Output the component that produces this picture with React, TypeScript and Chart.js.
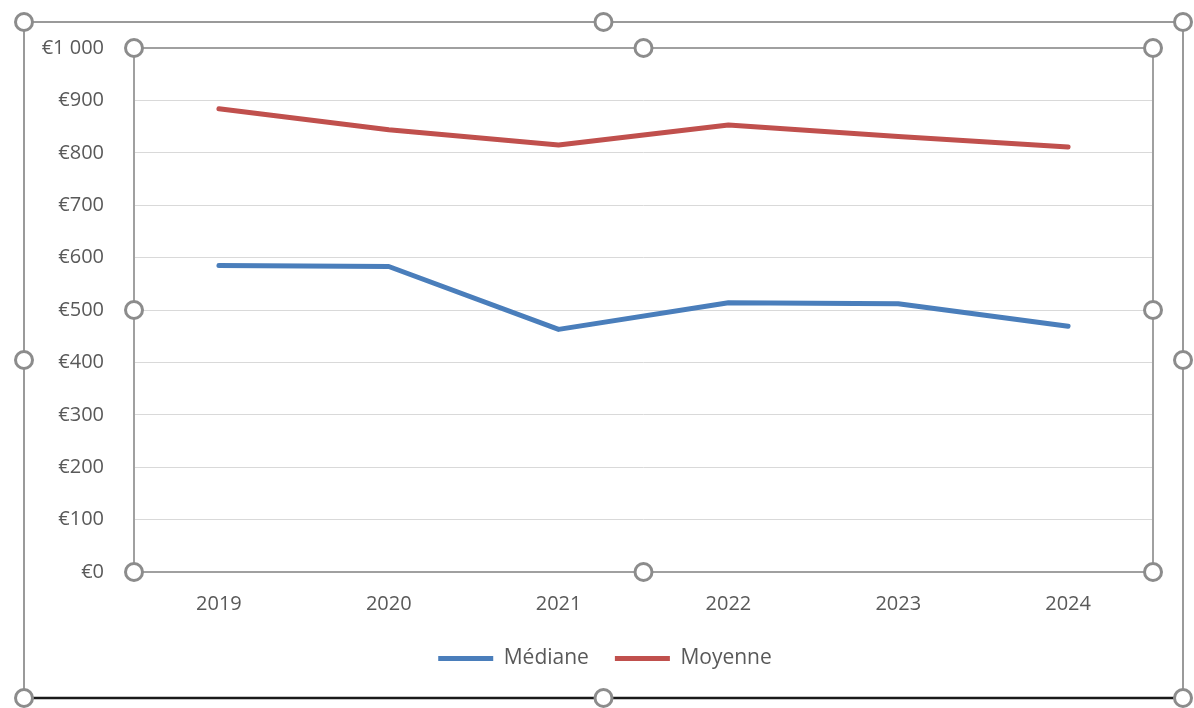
import React, { useEffect, useRef } from "react";
import { Chart, registerables } from "chart.js";

Chart.register(...registerables);

const categories = ["2019", "2020", "2021", "2022", "2023", "2024"];
const medianeValues = [585, 583, 463, 514, 512, 469];
const moyenneValues = [884, 844, 815, 853, 831, 811];
const seriesNames = ["Médiane", "Moyenne"];
const seriesColors = ["#4a7ebb", "#c0504d"];
const yMin = 0;
const yMax = 1000;
const yStep = 100;

const FONT = "'Open Sans', 'DejaVu Sans', sans-serif";

function formatEuro(v: number): string {
  const s = String(Math.round(v));
  const withSpaces = s.replace(/\B(?=(\d{3})+(?!\d))/g, " ");
  return "€" + withSpaces;
}

const legendShiftPlugin = {
  id: "legendShift",
  afterLayout(chart: any) {
    if (chart.legend) {
      chart.legend.left = 57;
    }
  },
};

const framePlugin = {
  id: "frameHandles",
  afterDraw(chart: any) {
    const ctx = chart.ctx as CanvasRenderingContext2D;
    const a = chart.chartArea;
    ctx.save();
    const ox1 = 24, oy1 = 22, ox2 = 1183, oy2 = 698;
    ctx.lineWidth = 2;
    ctx.strokeStyle = "#9a9a9a";
    ctx.beginPath();
    ctx.moveTo(ox1, oy2);
    ctx.lineTo(ox1, oy1);
    ctx.lineTo(ox2, oy1);
    ctx.lineTo(ox2, oy2);
    ctx.stroke();
    ctx.strokeStyle = "#1a1a1a";
    ctx.lineWidth = 2.5;
    ctx.beginPath();
    ctx.moveTo(ox1, oy2);
    ctx.lineTo(ox2, oy2);
    ctx.stroke();
    ctx.strokeStyle = "#a0a0a0";
    ctx.lineWidth = 2;
    ctx.strokeRect(a.left, a.top, a.right - a.left, a.bottom - a.top);
    const handle = (x: number, y: number) => {
      ctx.beginPath();
      ctx.arc(x, y, 8.5, 0, Math.PI * 2);
      ctx.fillStyle = "#ffffff";
      ctx.fill();
      ctx.lineWidth = 3;
      ctx.strokeStyle = "#8c8c8c";
      ctx.stroke();
    };
    const omx = (ox1 + ox2) / 2, omy = (oy1 + oy2) / 2;
    [[ox1, oy1], [omx, oy1], [ox2, oy1], [ox1, omy], [ox2, omy], [ox1, oy2], [omx, oy2], [ox2, oy2]].forEach(
      ([x, y]) => handle(x, y)
    );
    const pmx = (a.left + a.right) / 2, pmy = (a.top + a.bottom) / 2;
    [[a.left, a.top], [pmx, a.top], [a.right, a.top], [a.left, pmy], [a.right, pmy], [a.left, a.bottom], [pmx, a.bottom], [a.right, a.bottom]].forEach(
      ([x, y]) => handle(x, y)
    );
    ctx.restore();
  },
};

export default function App() {
  const canvasRef = useRef<HTMLCanvasElement | null>(null);

  useEffect(() => {
    if (!canvasRef.current) return;
    const chart = new Chart(canvasRef.current, {
      type: "line",
      data: {
        labels: categories,
        datasets: [
          {
            label: seriesNames[0],
            data: medianeValues,
            borderColor: seriesColors[0],
            backgroundColor: seriesColors[0],
            borderWidth: 5,
            pointRadius: 0,
            tension: 0,
            borderCapStyle: "round",
            borderJoinStyle: "round",
          },
          {
            label: seriesNames[1],
            data: moyenneValues,
            borderColor: seriesColors[1],
            backgroundColor: seriesColors[1],
            borderWidth: 5,
            pointRadius: 0,
            tension: 0,
            borderCapStyle: "round",
            borderJoinStyle: "round",
          },
        ],
      },
      options: {
        responsive: false,
        animation: false,
        devicePixelRatio: 1,
        layout: { padding: { left: 0, top: 48, right: 41, bottom: 29 } },
        plugins: {
          tooltip: { enabled: false },
          legend: {
            position: "bottom",
            labels: {
              boxWidth: 55,
              boxHeight: 5,
              padding: 26,
              color: "#595959",
              font: { family: FONT, size: 21 },
              generateLabels: (c: any) =>
                c.data.datasets.map((ds: any, i: number) => ({
                  text: ds.label,
                  fillStyle: ds.borderColor,
                  strokeStyle: ds.borderColor,
                  lineWidth: 0,
                  hidden: false,
                  datasetIndex: i,
                  fontColor: "#595959",
                })),
            },
          },
        },
        scales: {
          x: {
            offset: true,
            grid: { display: false, drawTicks: false },
            border: { display: false },
            ticks: {
              color: "#595959",
              font: { family: FONT, size: 20 },
              padding: 20,
              maxRotation: 0,
            },
            afterFit: (s: any) => {
              s.height = 50;
            },
          },
          y: {
            min: yMin,
            max: yMax,
            grid: { color: "#d9d9d9", lineWidth: 1, drawTicks: false },
            border: { display: false },
            ticks: {
              stepSize: yStep,
              color: "#595959",
              font: { family: FONT, size: 20 },
              padding: 30,
              callback: (v: any) => formatEuro(Number(v)),
            },
            afterFit: (s: any) => {
              s.width = 134;
            },
          },
        },
      },
      plugins: [legendShiftPlugin, framePlugin],
    });
    return () => chart.destroy();
  }, []);

  return (
    <div style={{ position: "absolute", left: 0, top: 0, width: 1194, height: 708, background: "#ffffff" }}>
      <canvas ref={canvasRef} width={1194} height={708} style={{ width: 1194, height: 708, display: "block" }} />
    </div>
  );
}
